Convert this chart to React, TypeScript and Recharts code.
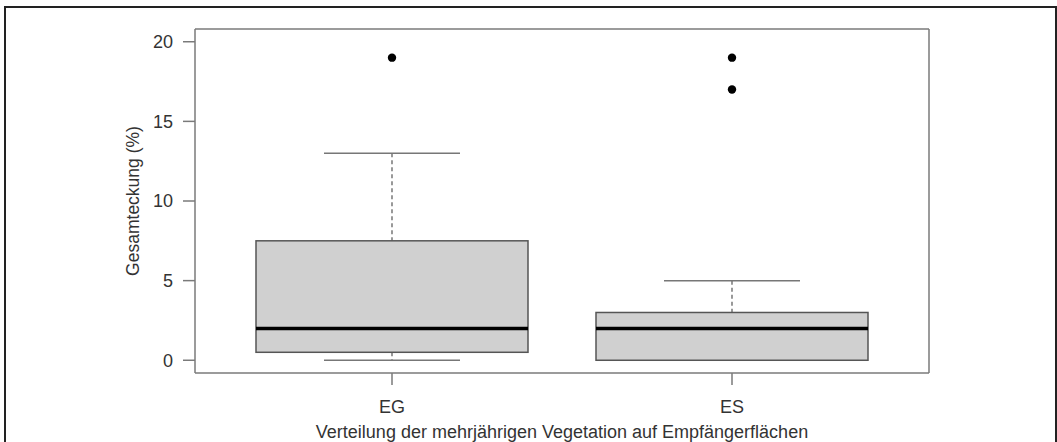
import React from "react"
import { ComposedChart, Bar, Scatter, XAxis, YAxis } from "recharts"

const groups = ["EG", "ES"]
const whiskerLow = [0, 0]
const q1 = [0.5, 0]
const median = [2, 2]
const q3 = [7.5, 3]
const whiskerHigh = [13, 5]

const outlierGroups = ["EG", "ES", "ES"]
const outlierValues = [19, 19, 17]

const yTicks = [0, 5, 10, 15, 20]

const data = groups.map((g, i) => ({
  group: g,
  range: [whiskerLow[i], whiskerHigh[i]],
  q1: q1[i],
  median: median[i],
  q3: q3[i],
}))

const outliers = outlierGroups.map((g, i) => ({ group: g, value: outlierValues[i] }))

const FONT = "'Liberation Sans', Arial, sans-serif"
const AXIS = "#7a7a7a"
const TEXT = "#333"

// draws whiskers + box from the range bar's pixel rect
function BoxShape(props: any) {
  const { x, y, width, height, payload } = props
  const [lo, hi] = payload.range
  const top = Math.min(y, y + height)
  const bottom = Math.max(y, y + height)
  const perUnit = (bottom - top) / (hi - lo)
  const toPx = (v: number) => bottom - (v - lo) * perUnit
  const cx = x + width / 2
  const capHalf = width / 4
  const yQ1 = toPx(payload.q1)
  const yQ3 = toPx(payload.q3)
  const yMed = toPx(payload.median)
  return (
    <g>
      <line x1={cx} x2={cx} y1={toPx(hi)} y2={yQ3} stroke="#555" strokeWidth={1.2} strokeDasharray="4 3" />
      <line x1={cx} x2={cx} y1={yQ1} y2={toPx(lo)} stroke="#555" strokeWidth={1.2} strokeDasharray="4 3" />
      <line x1={cx - capHalf} x2={cx + capHalf} y1={toPx(hi)} y2={toPx(hi)} stroke="#777" strokeWidth={1.5} />
      <line x1={cx - capHalf} x2={cx + capHalf} y1={toPx(lo)} y2={toPx(lo)} stroke="#777" strokeWidth={1.5} />
      <rect x={x} y={yQ3} width={width} height={yQ1 - yQ3} fill="#d0d0d0" stroke="#555" strokeWidth={1.5} />
      <line x1={x} x2={x + width} y1={yMed} y2={yMed} stroke="#000" strokeWidth={3.5} />
    </g>
  )
}

function Dot(props: any) {
  return <circle cx={props.cx} cy={props.cy} r={4.2} fill="#000" />
}

export default function App() {
  return (
    <div style={{ position: "fixed", left: 0, top: 0, width: 1057, height: 442, background: "#fff", fontFamily: FONT }}>
      <div
        style={{
          position: "absolute",
          left: 4,
          top: 6,
          width: 1049,
          height: 450,
          border: "2px solid #222",
          borderBottom: "none",
        }}
      />
      <ComposedChart
        width={1057}
        height={442}
        data={data}
        margin={{ top: 28, right: 127, left: 0, bottom: 0 }}
        style={{ position: "absolute", left: 0, top: 0 }}
      >
        <XAxis
          dataKey="group"
          type="category"
          allowDuplicatedCategory={false}
          padding={{ left: 27, right: 27 }}
          height={69}
          tickSize={12}
          tickMargin={15}
          stroke={AXIS}
          strokeWidth={1.5}
          tick={{ fill: TEXT, fontSize: 18, fontFamily: FONT }}
          label={{
            value: "Verteilung der mehrjährigen Vegetation auf Empfängerflächen",
            position: "insideBottom",
            offset: 4,
            fill: TEXT,
            fontSize: 18,
            fontFamily: FONT,
          }}
        />
        <XAxis
          xAxisId="top"
          dataKey="group"
          orientation="top"
          allowDuplicatedCategory={false}
          height={1}
          tick={false}
          tickLine={false}
          stroke={AXIS}
          strokeWidth={1.5}
        />
        <YAxis
          type="number"
          domain={[-0.8, 20.8]}
          ticks={yTicks}
          width={195}
          tickSize={12}
          tickMargin={10}
          stroke={AXIS}
          strokeWidth={1.5}
          allowDataOverflow
          tick={{ fill: TEXT, fontSize: 18, fontFamily: FONT }}
          label={(p: any) => {
            const vb = p.viewBox
            const lx = vb.x + 139
            const ly = vb.y + vb.height / 2
            return (
              <text
                x={lx}
                y={ly}
                transform={`rotate(-90, ${lx}, ${ly})`}
                textAnchor="middle"
                fill={TEXT}
                fontSize={17.5}
                fontFamily={FONT}
              >
                Gesamteckung (%)
              </text>
            )
          }}
        />
        <YAxis yAxisId="right" orientation="right" width={1} tick={false} tickLine={false} stroke={AXIS} strokeWidth={1.5} />
        <Bar dataKey="range" barSize={272} shape={<BoxShape />} isAnimationActive={false} />
        <Scatter data={outliers} dataKey="value" shape={<Dot />} isAnimationActive={false} />
      </ComposedChart>
    </div>
  )
}
